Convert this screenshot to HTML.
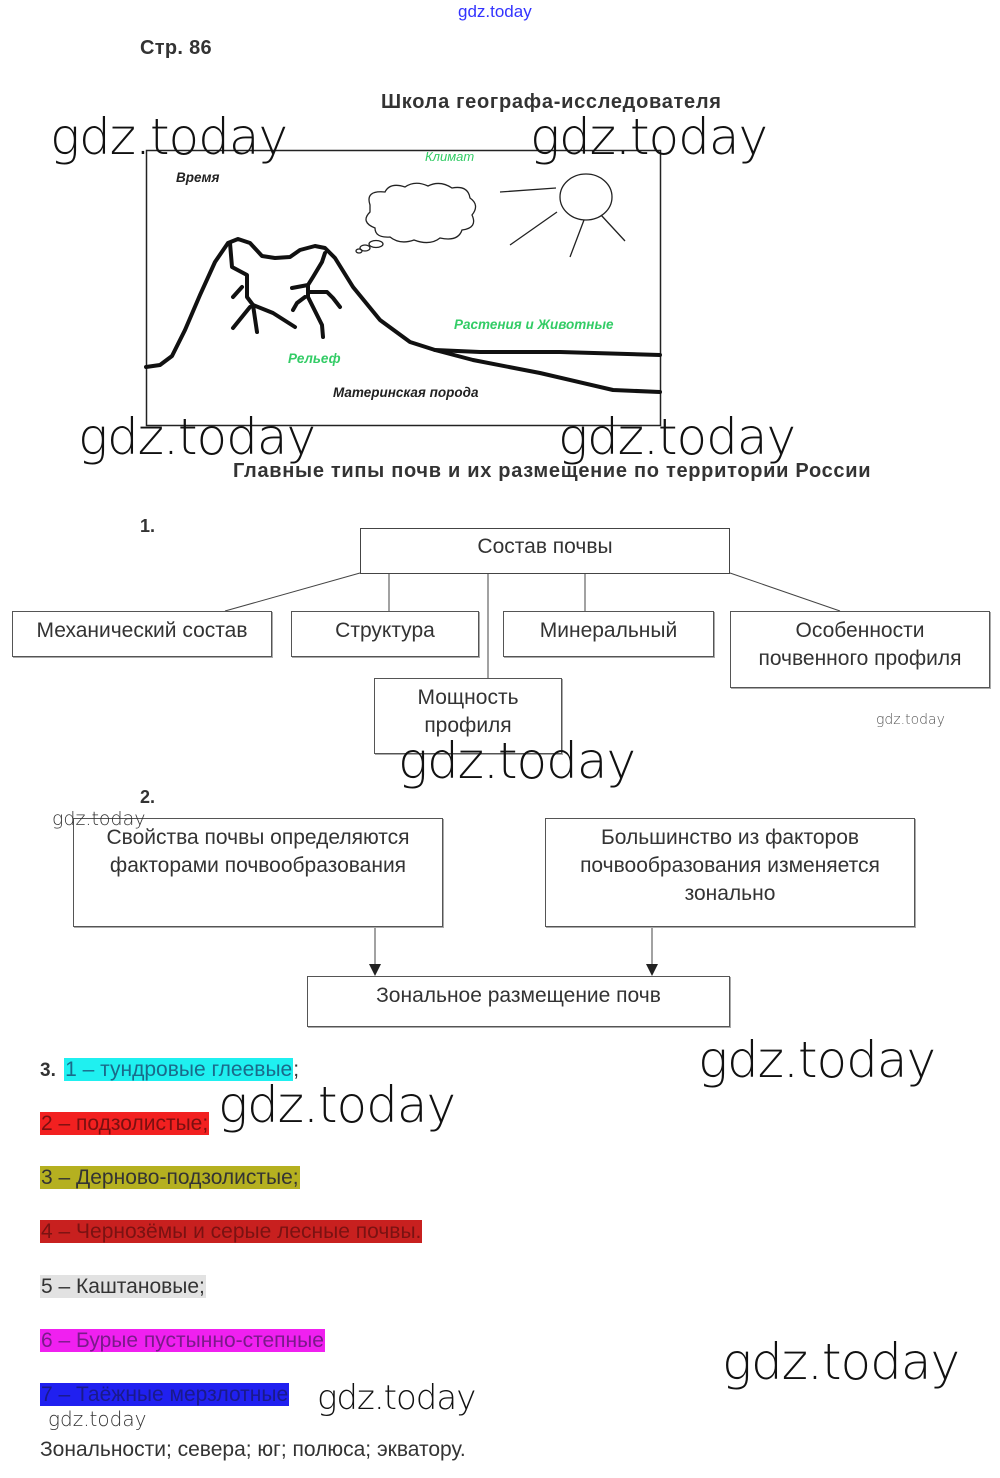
<!DOCTYPE html>
<html><head><meta charset="utf-8"><style>
body{margin:0;background:#fff;width:1000px;height:1478px;position:relative;overflow:hidden;font-family:"Liberation Sans",sans-serif;color:#333}
.a{position:absolute;white-space:nowrap}
.wm{position:absolute;font-family:"DejaVu Sans","Liberation Sans",sans-serif;font-weight:200;color:#111;white-space:nowrap;letter-spacing:-1px}
.b{position:absolute;border:1px solid #555;box-sizing:border-box;text-align:center;font-size:21px;line-height:28px;color:#333;box-shadow:1px 1px 0 #aaa}
.h{font-size:21px;line-height:24px;padding:0 1px}
.r{position:absolute;left:40px;white-space:nowrap;font-size:21px;line-height:24px}
</style></head><body>
<div class="a" style="left:458px;top:2px;font-size:17px;color:#33f">gdz.today</div>
<div class="a" style="left:140px;top:37px;font-size:20px;font-weight:bold;color:#333;letter-spacing:0.3px">Стр. 86</div>
<div class="a" style="left:381px;top:91px;font-size:20px;font-weight:bold;color:#333;letter-spacing:0.7px">Школа географа-исследователя</div>
<svg class="a" style="left:0;top:0" width="1000" height="1478">
<rect x="146.5" y="150.5" width="514" height="275" fill="none" stroke="#222" stroke-width="1.5"/>
<g fill="none" stroke="#111" stroke-width="4" stroke-linecap="round" stroke-linejoin="round">
<path d="M146 367 L160 365 L172 356 L185 330 L200 295 L215 262 L228 243 L238 239 L250 243 L262 256 L275 258 L290 257 L300 250 L315 246 L325 248 L335 258 L353 287 L380 320 L410 342 L435 350 L473 360 L540 373 L613 390 L660 392"/>
<path d="M435 350 L480 352 L560 352 L660 355"/>
<path d="M230 243 L232 267 L247 275 L247 285 L247 297 L253 305 L273 313 L295 327"/>
<path d="M242 287 L233 297"/><path d="M253 305 L257 332"/><path d="M250 307 L233 328"/>
<path d="M325 253 L322 262 L313 277 L308 285 L292 288"/>
<path d="M308 285 L308 297 L317 315 L322 325 L323 337"/>
<path d="M308 292 L327 292 L333 298 L340 307"/>
<path d="M305 297 L297 303 L293 310"/>
</g>
<g fill="none" stroke="#222" stroke-width="1.3">
<path d="M370 205 Q365 190 385 192 Q390 182 405 187 Q415 180 428 186 Q440 180 452 188 Q468 185 470 198 Q480 205 472 215 Q478 228 462 230 Q458 242 440 238 Q430 246 414 240 Q400 245 390 237 Q375 238 375 228 Q360 222 370 212 Z"/>
<ellipse cx="376" cy="244" rx="7" ry="3.5"/><ellipse cx="365" cy="248" rx="5" ry="3"/><ellipse cx="359" cy="251" rx="3" ry="2"/>
<ellipse cx="586" cy="197" rx="26" ry="23"/>
<path d="M500 192 L556 188 M557 212 L510 245 M584 220 L570 257 M601 215 L625 241"/>
</g>
<g stroke="#444" stroke-width="1" fill="none">
<rect x="360.5" y="528.5" width="369" height="45"/>
<path d="M360 573 L225 611 M389 573 L389 611 M488 573 L488 678 M585 573 L585 611 M730 573 L840 611"/>
<path d="M375 926 L375 968 M652 926 L652 968"/>
</g>
<path d="M369 964 L381 964 L375 976 Z M646 964 L658 964 L652 976 Z" fill="#222"/>
</svg>
<div class="a" style="left:425px;top:149px;font-size:13px;font-style:italic;color:#3c6">Климат</div>
<div class="a" style="left:176px;top:170px;font-size:13.5px;font-style:italic;font-weight:bold;color:#222">Время</div>
<div class="a" style="left:454px;top:317px;font-size:13.5px;font-style:italic;color:#3c6;font-weight:bold">Растения и Животные</div>
<div class="a" style="left:288px;top:351px;font-size:13.5px;font-style:italic;color:#3c6;font-weight:bold">Рельеф</div>
<div class="a" style="left:333px;top:385px;font-size:13.5px;font-style:italic;font-weight:bold;color:#222">Материнская порода</div>
<div class="a" style="left:233px;top:460px;font-size:20px;font-weight:bold;color:#333;letter-spacing:0.7px">Главные типы почв и их размещение по территории России</div>
<div class="a" style="left:140px;top:516px;font-size:18px;font-weight:bold">1.</div>
<div class="b" style="left:360px;top:528px;width:370px;height:46px;line-height:38px;border:none;box-shadow:none">Состав почвы</div>
<div class="b" style="left:12px;top:611px;width:260px;height:46px;line-height:38px">Механический состав</div>
<div class="b" style="left:291px;top:611px;width:188px;height:46px;line-height:38px">Структура</div>
<div class="b" style="left:503px;top:611px;width:211px;height:46px;line-height:38px">Минеральный</div>
<div class="b" style="left:730px;top:611px;width:260px;height:77px;padding-top:5px">Особенности<br>почвенного профиля</div>
<div class="b" style="left:374px;top:678px;width:188px;height:76px;padding-top:5px">Мощность<br>профиля</div>
<div class="a" style="left:140px;top:787px;font-size:18px;font-weight:bold">2.</div>
<div class="b" style="left:73px;top:818px;width:370px;height:109px;padding-top:5px">Свойства почвы определяются<br>факторами почвообразования</div>
<div class="b" style="left:545px;top:818px;width:370px;height:109px;padding-top:5px">Большинство из факторов<br>почвообразования изменяется<br>зонально</div>
<div class="b" style="left:307px;top:976px;width:423px;height:51px;line-height:38px">Зональное размещение почв</div>
<div class="r" style="top:1058px"><b style="font-size:19px">3. </b><span class="h" style="background:#1ff0f0;color:#1a6a8a;margin-left:3px">1 – тундровые глеевые</span>;</div>
<div class="r" style="top:1112px"><span class="h" style="background:#f22020;color:#7a1010">2 – подзолистые;</span></div>
<div class="r" style="top:1166px"><span class="h" style="background:#b5b020;color:#333">3 – Дерново-подзолистые;</span></div>
<div class="r" style="top:1220px"><span class="h" style="background:#c8201f;color:#7a1212">4 – Чернозёмы и серые лесные почвы.</span></div>
<div class="r" style="top:1275px"><span class="h" style="background:#e2e2e2;color:#333">5 – Каштановые;</span></div>
<div class="r" style="top:1329px"><span class="h" style="background:#f020f0;color:#7a1a8a">6 – Бурые пустынно-степные</span></div>
<div class="r" style="top:1383px"><span class="h" style="background:#2020f0;color:#1a1a8a">7 – Таёжные мерзлотные</span></div>
<div class="a" style="left:40px;top:1438px;font-size:21px;color:#333">Зональности; севера; юг; полюса; экватору.</div>
<div class="wm" style="left:50px;top:108px;font-size:50px">gdz.today</div>
<div class="wm" style="left:530px;top:108px;font-size:50px">gdz.today</div>
<div class="wm" style="left:78px;top:408px;font-size:50px">gdz.today</div>
<div class="wm" style="left:558px;top:408px;font-size:50px">gdz.today</div>
<div class="wm" style="left:398px;top:732px;font-size:50px">gdz.today</div>
<div class="wm" style="left:698px;top:1031px;font-size:50px">gdz.today</div>
<div class="wm" style="left:218px;top:1076px;font-size:50px">gdz.today</div>
<div class="wm" style="left:722px;top:1333px;font-size:50px">gdz.today</div>
<div class="wm" style="left:317px;top:1378px;font-size:34px">gdz.today</div>
<div class="wm" style="left:876px;top:712px;font-size:14px;color:#555;letter-spacing:0">gdz.today</div>
<div class="wm" style="left:52px;top:808px;font-size:19px;color:#333;letter-spacing:0">gdz.today</div>
<div class="wm" style="left:48px;top:1407px;font-size:20px;color:#333;letter-spacing:0">gdz.today</div>
</body></html>
